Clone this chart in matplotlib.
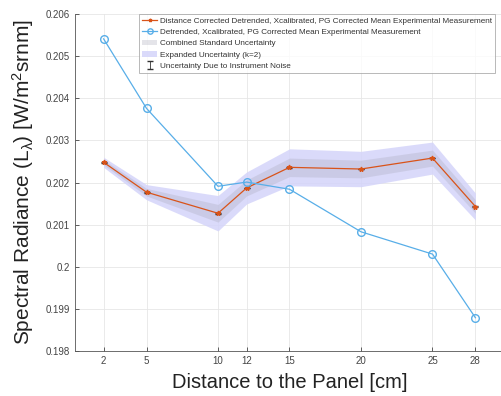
import matplotlib
matplotlib.use("Agg")
import matplotlib.pyplot as plt
import numpy as np

plt.rcParams['font.family'] = ['Liberation Sans', 'DejaVu Sans']
plt.rcParams['mathtext.fontset'] = 'custom'
plt.rcParams['mathtext.rm'] = 'Liberation Sans'
plt.rcParams['mathtext.it'] = 'Liberation Sans'

# data
distance = [2, 5, 10, 12, 15, 20, 25, 28]
corrected = [0.20248, 0.20177, 0.20127, 0.20187, 0.20236, 0.20232, 0.20258, 0.20143]
uncorrected = [0.20541, 0.20376, 0.20191, 0.20201, 0.20184, 0.20083, 0.20030, 0.19879]
std_unc = [0.00006, 0.00009, 0.00021, 0.00019, 0.00022, 0.00021, 0.00019, 0.00016]
noise_unc = [0.00001, 0.00001, 0.00001, 0.00001, 0.00001, 0.00001, 0.00001, 0.00001]
yticks = [0.198, 0.199, 0.2, 0.201, 0.202, 0.203, 0.204, 0.205, 0.206]
ytick_labels = ['0.198', '0.199', '0.2', '0.201', '0.202', '0.203', '0.204', '0.205', '0.206']

orange = '#D95319'
blue = '#58AEE8'

fig = plt.figure(figsize=(5.02, 3.96), dpi=100)
ax = fig.add_axes([75 / 502, 45 / 396, 429 / 502, 337 / 396])

c = np.array(corrected)
s = np.array(std_unc)
ax.fill_between(distance, c - 2 * s, c + 2 * s, color='#d4d4fa', alpha=0.85, lw=0,
                label='Expanded Uncertainty (k=2)', zorder=1)
ax.fill_between(distance, c - s, c + s, color='#a8a8b8', alpha=0.3, lw=0,
                label='Combined Standard Uncertainty', zorder=2)

l1, = ax.plot(distance, corrected, color=orange, marker='*', ms=3.5, lw=0.9, zorder=4,
              label='Distance Corrected Detrended, Xcalibrated, PG Corrected Mean Experimental Measurement')
l2, = ax.plot(distance, uncorrected, color=blue, marker='o', ms=5.5, mfc='none', lw=0.9, zorder=4,
              label='Detrended, Xcalibrated, PG Corrected Mean Experimental Measurement')
eb = ax.errorbar(distance, corrected, yerr=noise_unc, fmt='none', ecolor='#333333',
                 elinewidth=0.6, capsize=2, zorder=3, label='Uncertainty Due to Instrument Noise')

handles, labels = ax.get_legend_handles_labels()
order = [2, 3, 1, 0, 4]
leg = ax.legend([handles[i] for i in order], [labels[i] for i in order],
                loc='upper left', bbox_to_anchor=(139 / 502, 1 - 14 / 396), bbox_transform=fig.transFigure,
                fontsize=5.9, frameon=True, fancybox=False, edgecolor='#999999',
                borderpad=0.4, labelspacing=0.42, handlelength=1.8, handletextpad=0.35,
                borderaxespad=0, markerscale=0.7)
leg.get_frame().set_linewidth(0.6)
for t in leg.get_texts():
    t.set_color('#333333')

ax.set_xlim(0, 30)
ax.set_ylim(0.198, 0.206)
ax.set_xticks(distance)
ax.set_xticklabels([str(d) for d in distance])
ax.set_yticks(yticks)
ax.set_yticklabels(ytick_labels)
ax.tick_params(direction='in', labelsize=7, colors='#444444', length=3, width=0.6)
ax.grid(True, color='#e6e6e6', lw=0.6)
ax.set_axisbelow(True)
for side in ['top', 'right']:
    ax.spines[side].set_visible(False)
for side in ['left', 'bottom']:
    ax.spines[side].set_color('#555555')
    ax.spines[side].set_linewidth(0.6)

ax.set_xlabel('Distance to the Panel [cm]', fontsize=14.5, color='#222222', labelpad=5)
ax.set_ylabel(r'Spectral Radiance (L$_\lambda$) [W/m$^2$srnm]', fontsize=15, color='#222222', labelpad=7)

fig.savefig('out.png', dpi=100)
